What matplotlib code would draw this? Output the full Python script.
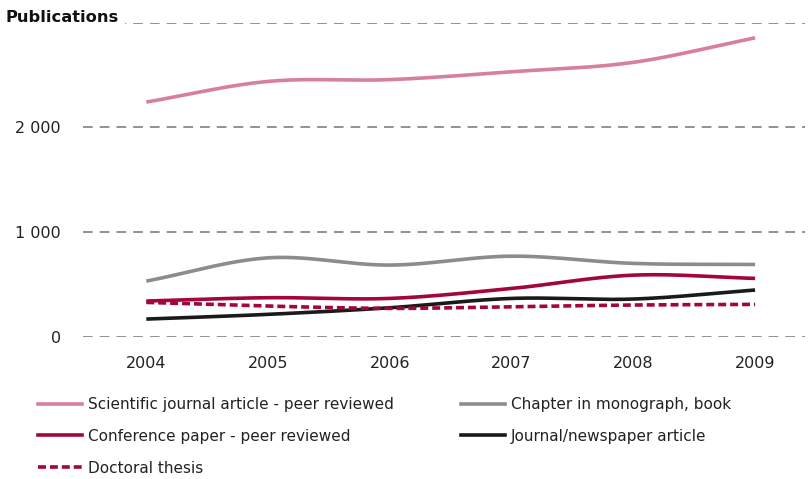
import numpy as np
import matplotlib
matplotlib.use("Agg")
import matplotlib.pyplot as plt
from matplotlib.lines import Line2D

plt.rcParams['font.family'] = ['DejaVu Sans']

years = [2004, 2005, 2006, 2007, 2008, 2009]
scientific = [2241, 2438, 2455, 2530, 2620, 2854]
chapter = [533, 755, 686, 771, 702, 692]
conference = [343, 375, 368, 463, 590, 559]
newspaper = [171, 216, 279, 368, 362, 448]
doctoral = [330, 295, 273, 289, 305, 311]

PINK = '#D8809A'
GRAY = '#8C8C8C'
RED = '#A3063A'
BLACK = '#1A1A1A'
DOTS = (0, (2.2, 1.1))


def smooth(x, y, n=40):
    # Catmull-Rom style smoothing like office charts
    x = np.asarray(x, float)
    y = np.asarray(y, float)
    px = np.concatenate([[2 * x[0] - x[1]], x, [2 * x[-1] - x[-2]]])
    py = np.concatenate([[2 * y[0] - y[1]], y, [2 * y[-1] - y[-2]]])
    xs, ys = [], []
    t = np.linspace(0, 1, n)
    for i in range(1, len(px) - 2):
        for arr, out in ((px, xs), (py, ys)):
            p0, p1, p2, p3 = arr[i - 1], arr[i], arr[i + 1], arr[i + 2]
            out.append(0.5 * ((2 * p1) + (-p0 + p2) * t
                              + (2 * p0 - 5 * p1 + 4 * p2 - p3) * t ** 2
                              + (-p0 + 3 * p1 - 3 * p2 + p3) * t ** 3))
    return np.concatenate(xs), np.concatenate(ys)


fig = plt.figure(figsize=(8.12, 4.79), dpi=100)
ax = fig.add_axes([83 / 812, 1 - 337 / 479, (805 - 83) / 812, (337 - 22.5) / 479])

lw = 2.6
series = [
    (scientific, PINK, '-', 'Scientific journal article - peer reviewed'),
    (chapter, GRAY, '-', 'Chapter in monograph, book'),
    (conference, RED, '-', 'Conference paper - peer reviewed'),
    (newspaper, BLACK, '-', 'Journal/newspaper article'),
    (doctoral, RED, DOTS, 'Doctoral thesis'),
]
for vals, col, ls, lab in series:
    sx, sy = smooth(years, vals)
    ax.plot(sx, sy, color=col, linestyle=ls, linewidth=lw, solid_capstyle='butt',
            dash_capstyle='butt')

ax.set_xlim(2003.48, 2009.41)
ax.set_ylim(0, 3000)
ax.set_yticks([0, 1000, 2000, 3000])
ax.set_yticklabels(['0', '1 000', '2 000', ''])
ax.set_xticks(years)
ax.set_xticklabels([str(y) for y in years])
ax.tick_params(axis='both', length=0, labelsize=11.5, colors='#222222')
ax.tick_params(axis='y', pad=16)
ax.tick_params(axis='x', pad=14)
ax.grid(axis='y', color='#929292', linestyle=(0, (5.0, 3.6)), linewidth=1.4)
ax.set_axisbelow(True)
for s in ax.spines.values():
    s.set_visible(False)
ax.set_clip_on(False)

fig.text(6 / 812, 1 - 17 / 479, 'Publications', fontsize=11.7, fontweight='bold',
         va='center', ha='left', color='#111111', zorder=5,
         bbox=dict(facecolor='white', edgecolor='none', pad=4))


def handle(col, ls):
    return Line2D([], [], color=col, linestyle=ls, linewidth=lw)


leg_kw = dict(frameon=False, fontsize=11, handlelength=2.9, handletextpad=0.35,
              labelspacing=1.1, borderpad=0, borderaxespad=0, loc='upper left',
              labelcolor='#222222')
l1 = fig.legend([handle(PINK, '-'), handle(RED, '-'), handle(RED, DOTS)],
                [series[0][3], series[2][3], series[4][3]],
                bbox_to_anchor=(38 / 812, 1 - 397 / 479), **leg_kw)
l2 = fig.legend([handle(GRAY, '-'), handle(BLACK, '-')],
                [series[1][3], series[3][3]],
                bbox_to_anchor=(461 / 812, 1 - 397 / 479), **leg_kw)

fig.savefig('out.png', dpi=100)
